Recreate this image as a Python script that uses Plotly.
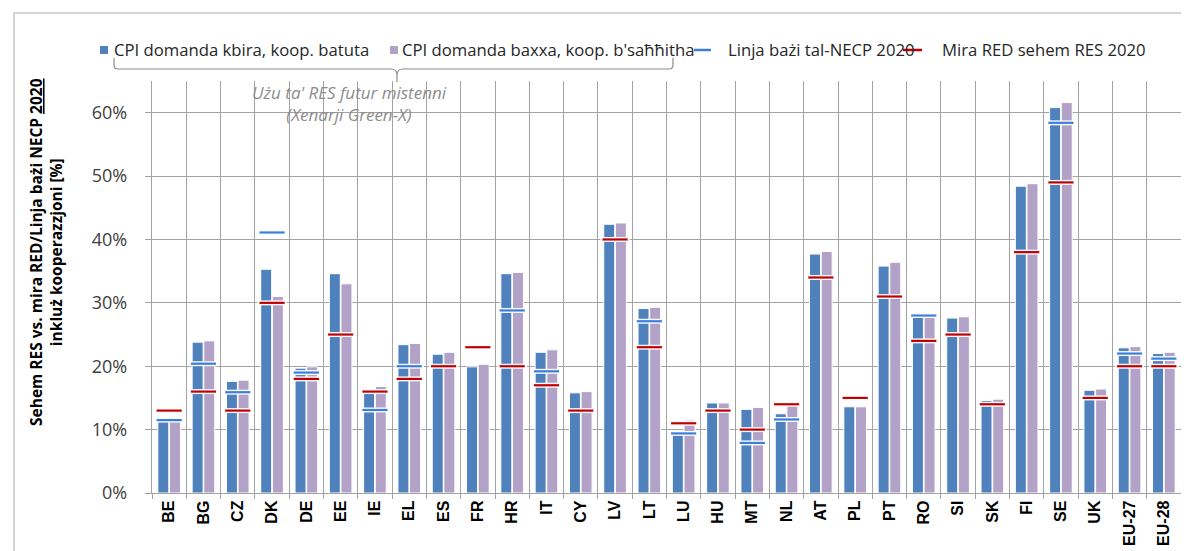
import plotly.graph_objects as go

categories = ["BE", "BG", "CZ", "DK", "DE", "EE", "IE", "EL", "ES", "FR", "HR", "IT", "CY", "LV", "LT",
              "LU", "HU", "MT", "NL", "AT", "PL", "PT", "RO", "SI", "SK", "FI", "SE", "UK", "EU-27", "EU-28"]

cpi_high_demand = [11.8, 23.8, 17.6, 35.3, 19.7, 34.6, 16.0, 23.4, 21.9, 19.9, 34.6, 22.2, 15.8, 42.4, 29.1,
                   9.8, 14.2, 13.2, 12.5, 37.7, 13.6, 35.8, 27.8, 27.6, 14.6, 48.4, 60.8, 16.2, 22.9, 22.0]

cpi_low_demand = [11.9, 24.0, 17.8, 31.0, 19.9, 33.0, 16.8, 23.6, 22.2, 20.3, 34.8, 22.6, 16.0, 42.6, 29.3,
                  11.5, 14.2, 13.5, 14.2, 38.1, 13.6, 36.4, 27.9, 27.8, 14.8, 48.8, 61.6, 16.4, 23.1, 22.2]

necp_baseline = [11.5, 20.4, 15.9, 41.1, 19.0, None, 13.1, 20.0, None, None, 28.8, 19.2, None, None, 27.1,
                 9.4, None, 7.9, 11.6, None, None, None, 28.0, None, None, None, 58.4, None, 22.0, 21.2]

red_target = [13, 16, 13, 30, 18, 25, 16, 18, 20, 23, 20, 17, 13, 40, 23,
              11, 13, 10, 14, 34, 15, 31, 24, 25, 14, 38, 49, 15, 20, 20]

y_tick_values = [0, 10, 20, 30, 40, 50, 60]
y_tick_labels = ["0%", "10%", "20%", "30%", "40%", "50%", "60%"]

series_names = ["CPI domanda kbira, koop. batuta", "CPI domanda baxxa, koop. b'saħħitha",
                "Linja bażi tal-NECP 2020", "Mira RED sehem RES 2020"]
BLUE, PURPLE, LBLUE, RED = "#4F81BD", "#B3A2C7", "#3C7FDA", "#C00000"

W, H = 1189, 551
L, R, T, B = 144, 16, 73, 66
PW = W - L - R
PH = H - T - B


def px(xp):
    return (xp - L) / PW


def py(yp):
    return (H - B - yp) / PH


GRID = "#a3a3a3"

fig = go.Figure()
fig.add_bar(x=categories, y=cpi_high_demand, name=series_names[0],
            marker=dict(color=BLUE, line=dict(color="white", width=1)), hoverinfo="skip")
fig.add_bar(x=categories, y=cpi_low_demand, name=series_names[1],
            marker=dict(color=PURPLE, line=dict(color="white", width=1)), hoverinfo="skip")

for vals in (necp_baseline, red_target):
    fig.add_scatter(x=categories, y=vals, mode="markers", hoverinfo="skip",
                    marker=dict(symbol="line-ew", size=21,
                                line=dict(color="rgba(255,255,255,0.95)", width=5)))

fig.add_scatter(x=categories, y=necp_baseline, mode="markers", name=series_names[2],
                hoverinfo="skip",
                marker=dict(symbol="line-ew", size=18, line=dict(color=LBLUE, width=2.2)))
fig.add_scatter(x=categories, y=red_target, mode="markers", name=series_names[3],
                hoverinfo="skip",
                marker=dict(symbol="line-ew", size=18, line=dict(color=RED, width=2.2)))

fig.update_layout(
    width=W, height=H,
    margin=dict(l=L, r=R, t=T, b=B, autoexpand=False),
    paper_bgcolor="white", plot_bgcolor="white",
    barmode="group", bargap=0.32, bargroupgap=0.06,
    font=dict(family="Open Sans", color="#262626"),
    showlegend=False,
)

fig.update_xaxes(
    type="category", range=[-0.5, len(categories) - 0.5], autorange=False,
    tickson="boundaries", ticks="outside", ticklen=5, tickcolor=GRID,
    showgrid=True, gridcolor=GRID, gridwidth=1.3,
    showline=True, linecolor=GRID, linewidth=1.3,
    tickangle=-90,
    tickfont=dict(family="Liberation Sans", size=16, weight="bold", color="#000000"),
)
fig.update_yaxes(
    range=[0, 65], autorange=False, tickmode="array", tickvals=y_tick_values, ticktext=y_tick_labels,
    ticks="outside", ticklen=6, tickcolor=GRID, ticklabelstandoff=14,
    showgrid=True, gridcolor=GRID, gridwidth=1.3, zeroline=False,
    showline=True, linecolor=GRID, linewidth=1.3,
    tickfont=dict(family="Open Sans", size=18, color="#404040"),
)

# white label background covering the upper-left gridlines
fig.add_shape(type="rect", xref="paper", yref="y", x0=px(146), x1=px(536), y0=55.5, y1=65,
              fillcolor="white", line=dict(width=0), layer="between")

# legend (drawn manually to follow the original entry spacing)
LEG_Y = 42
fig.add_shape(type="rect", xref="paper", yref="paper", x0=px(92), x1=px(100), y0=py(46), y1=py(38),
              fillcolor=BLUE, line=dict(width=0))
fig.add_shape(type="rect", xref="paper", yref="paper", x0=px(382), x1=px(390), y0=py(46), y1=py(38),
              fillcolor=PURPLE, line=dict(width=0))
fig.add_shape(type="line", xref="paper", yref="paper", x0=px(686), x1=px(703), y0=py(LEG_Y), y1=py(LEG_Y),
              line=dict(color=LBLUE, width=2.5))
fig.add_shape(type="line", xref="paper", yref="paper", x0=px(895), x1=px(914), y0=py(LEG_Y), y1=py(LEG_Y),
              line=dict(color=RED, width=2.5))
for name, left in zip(series_names, (104, 392, 718, 932)):
    fig.add_annotation(text=name, xref="paper", yref="paper", x=px(left), y=py(LEG_Y),
                       xanchor="left", yanchor="middle", showarrow=False,
                       font=dict(family="Open Sans", size=16.7, color="#262626"))

# callout bracket under the first two legend entries
pts = ("M {a},{b} L {a},{c} Q {a},{d} {e},{d} L {f},{d} Q {g},{d} {g},{h} L {g},{i} "
       "L {g},{h} Q {g},{d} {j},{d} L {k},{d} Q {m},{d} {m},{c} L {m},{b}").format(
    a=px(106), b=py(50), c=py(57), d=py(61), e=px(110), f=px(383), g=px(389), h=py(67), i=py(74),
    j=px(395), k=px(661), m=px(665))
fig.add_shape(type="path", xref="paper", yref="paper", path=pts,
              line=dict(color="#8c8c8c", width=1.2))

# outer chart border
fig.add_shape(type="rect", xref="paper", yref="paper", x0=px(6), x1=px(1210), y0=py(5), y1=py(620),
              line=dict(color="#c8c8c8", width=1.5), fillcolor="rgba(0,0,0,0)")

fig.add_annotation(
    text="Sehem RES vs. mira RED/Linja bażi NECP <u>2020</u><br>inkluż kooperazzjoni [%]",
    textangle=-90, xref="paper", yref="paper", x=px(38), y=py(244),
    xanchor="center", yanchor="middle", showarrow=False,
    font=dict(family="Open Sans", size=15.5, weight="bold", color="#000000"),
)
fig.add_annotation(
    text="<i>Użu ta' RES futur mistenni</i><br><i>(Xenarji Green-X)</i>",
    xref="paper", yref="paper", x=px(341), y=py(96), xanchor="center", yanchor="middle",
    showarrow=False, font=dict(family="Open Sans", size=17, color="#8c8c8c"),
)

fig.write_html("out.html")
